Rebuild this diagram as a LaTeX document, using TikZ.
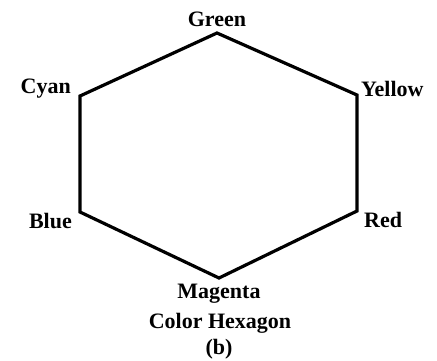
\documentclass[tikz,border=0pt]{standalone}
\usepackage{fontspec}
\setmainfont{Liberation Serif}
\begin{document}
\begin{tikzpicture}[x=1pt,y=-1pt,
  lbl/.style={font=\fontsize{22}{26}\selectfont\bfseries, inner sep=0pt},
  edge/.style={line width=3.2pt, line join=miter}]
\useasboundingbox (0,0) rectangle (437,360);
\coordinate (G) at (217,33);
\coordinate (Y) at (357,95);
\coordinate (R) at (357,211);
\coordinate (M) at (219,278);
\coordinate (B) at (80,212);
\coordinate (C) at (80,96);
\draw[edge] (G) -- (Y) -- (R) -- (M) -- (B) -- (C) -- cycle;
\node[lbl] (tg) at (217,19) {Green};
\node[lbl, anchor=east] (tc) at (71,89) {Cyan};
\node[lbl, anchor=west] (ty) at (361,89) {Yellow};
\node[lbl, anchor=east] (tb) at (72,221) {Blue};
\node[lbl, anchor=west] (tr) at (364,220) {Red};
\node[lbl] (tm) at (219,294) {Magenta};
\node[lbl] (th) at (220,323) {Color Hexagon};
\node[lbl] (tbb) at (219,349) {(b)};
\end{tikzpicture}
\end{document}
